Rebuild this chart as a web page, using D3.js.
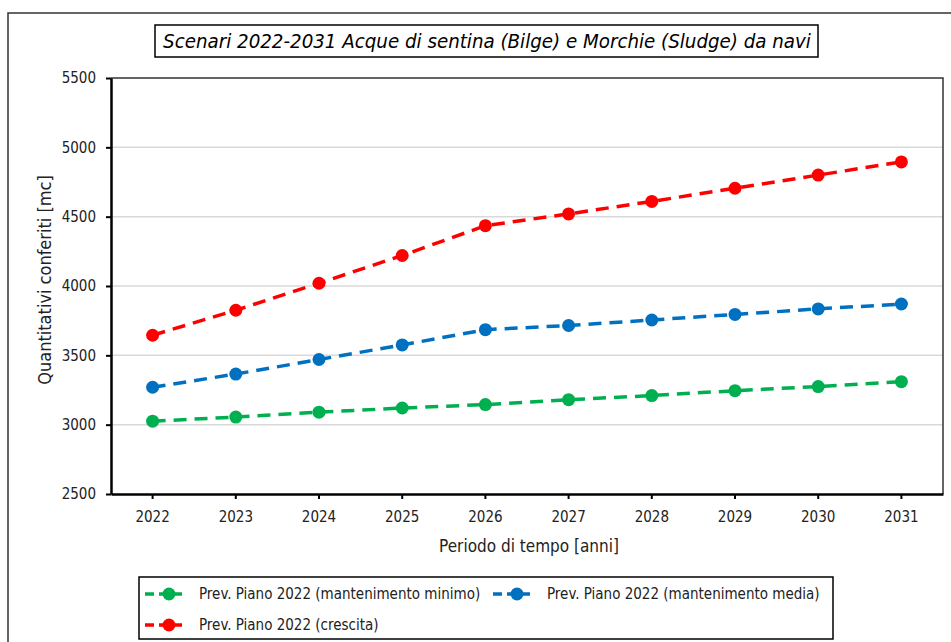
<!DOCTYPE html>
<html>
<head>
<meta charset="utf-8">
<script src="https://cdn.jsdelivr.net/npm/d3@7"></script>
<style>
    body { margin: 0; background: white; }
    svg { display: block; }
</style>
</head>
<body>
<div class="chart"></div>
<script>
const width = 951;
const height = 642;
const font = "'DejaVu Sans Condensed', 'Open Sans', sans-serif";

const years = ['2022', '2023', '2024', '2025', '2026', '2027', '2028', '2029', '2030', '2031'];
const yTicks = [2500, 3000, 3500, 4000, 4500, 5000, 5500];

const minimoValues = [3025, 3055, 3090, 3120, 3145, 3180, 3210, 3245, 3275, 3310];
const mediaValues = [3270, 3365, 3470, 3575, 3685, 3715, 3755, 3795, 3835, 3870];
const crescitaValues = [3645, 3825, 4020, 4220, 4435, 4520, 4610, 4705, 4800, 4895];

const seriesNames = [
    'Prev. Piano 2022 (mantenimento minimo)',
    'Prev. Piano 2022 (mantenimento media)',
    'Prev. Piano 2022 (crescita)',
];
const seriesColors = ['#00b050', '#0070c0', '#ff0000'];

const series = [minimoValues, mediaValues, crescitaValues].map((values, i) => ({
    name: seriesNames[i],
    color: seriesColors[i],
    values: values,
}));

const plot = { left: 111, top: 78, right: 943, bottom: 494 };

const svg = d3
    .select('.chart')
    .append('svg')
    .attr('width', width)
    .attr('height', height)
    .style('font-family', font);

// outer frame
svg.append('rect')
    .attr('x', 8)
    .attr('y', 13)
    .attr('width', 960)
    .attr('height', 650)
    .attr('fill', 'white')
    .attr('stroke', '#333')
    .attr('stroke-width', 1.5);

const x = d3.scaleBand().domain(years).range([plot.left, plot.right]);
const y = d3.scaleLinear().domain([2500, 5500]).range([plot.bottom, plot.top]);

// gridlines
svg.append('g')
    .selectAll('line')
    .data(yTicks.slice(1, -1))
    .enter()
    .append('line')
    .attr('x1', plot.left)
    .attr('x2', plot.right)
    .attr('y1', (d) => y(d))
    .attr('y2', (d) => y(d))
    .attr('stroke', '#d9d9d9')
    .attr('stroke-width', 1.5);

// plot frame (top / right)
svg.append('path')
    .attr('d', `M${plot.left},${plot.top}H${plot.right}V${plot.bottom}`)
    .attr('fill', 'none')
    .attr('stroke', '#333')
    .attr('stroke-width', 1.5);

const yAxis = svg
    .append('g')
    .attr('transform', `translate(${plot.left},0)`)
    .call(
        d3.axisLeft(y)
            .tickValues(yTicks)
            .tickFormat(d3.format('d'))
            .tickSize(5)
            .tickPadding(10)
            .tickSizeOuter(0)
    );

const xAxis = svg
    .append('g')
    .attr('transform', `translate(0,${plot.bottom})`)
    .call(d3.axisBottom(x).tickSize(5).tickPadding(12).tickSizeOuter(0));

[yAxis, xAxis].forEach((axis) => {
    axis.select('.domain').attr('stroke', '#000').attr('stroke-width', 2.5);
    axis.selectAll('.tick line').attr('stroke', '#000').attr('stroke-width', 2);
    axis.selectAll('.tick text')
        .attr('font-family', font)
        .attr('font-size', '15px')
        .attr('fill', '#222');
});

// lines + markers
const line = d3
    .line()
    .x((d, i) => x(years[i]) + x.bandwidth() / 2)
    .y((d) => y(d));

series.forEach((s) => {
    svg.append('path')
        .datum(s.values)
        .attr('d', line)
        .attr('fill', 'none')
        .attr('stroke', s.color)
        .attr('stroke-width', 3.5)
        .attr('stroke-dasharray', '13,8');

    svg.append('g')
        .selectAll('circle')
        .data(s.values)
        .enter()
        .append('circle')
        .attr('cx', (d, i) => x(years[i]) + x.bandwidth() / 2)
        .attr('cy', (d) => y(d))
        .attr('r', 6.5)
        .attr('fill', s.color);
});

// axis titles
svg.append('text')
    .attr('transform', `translate(51,${(plot.top + plot.bottom) / 2 - 6}) rotate(-90)`)
    .attr('text-anchor', 'middle')
    .attr('font-size', '18px')
    .attr('fill', '#222')
    .text('Quantitativi conferiti [mc]');

svg.append('text')
    .attr('x', (plot.left + plot.right) / 2 + 2)
    .attr('y', 552)
    .attr('text-anchor', 'middle')
    .attr('font-size', '17px')
    .attr('fill', '#222')
    .text('Periodo di tempo [anni]');

// title box
svg.append('rect')
    .attr('x', 155)
    .attr('y', 25)
    .attr('width', 663)
    .attr('height', 32)
    .attr('fill', 'white')
    .attr('stroke', '#000')
    .attr('stroke-width', 1.5);

svg.append('text')
    .attr('x', 487)
    .attr('y', 48)
    .attr('text-anchor', 'middle')
    .attr('font-size', '20.3px')
    .attr('font-style', 'italic')
    .attr('fill', '#000')
    .text('Scenari 2022-2031 Acque di sentina (Bilge) e Morchie (Sludge) da navi');

// legend
const legend = svg.append('g');
legend.append('rect')
    .attr('x', 139)
    .attr('y', 577)
    .attr('width', 694)
    .attr('height', 62)
    .attr('fill', 'white')
    .attr('stroke', '#000')
    .attr('stroke-width', 1.5);

const legendPos = [
    { x: 145, y: 594 },
    { x: 493, y: 594 },
    { x: 145, y: 625 },
];

series.forEach((s, i) => {
    const g = legend.append('g').attr('transform', `translate(${legendPos[i].x},${legendPos[i].y})`);
    g.append('line')
        .attr('x1', 0)
        .attr('x2', 38)
        .attr('stroke', s.color)
        .attr('stroke-width', 3.5)
        .attr('stroke-dasharray', '9,5');
    g.append('circle').attr('cx', 24).attr('r', 6.5).attr('fill', s.color);
    g.append('text')
        .attr('x', 54)
        .attr('y', 5)
        .attr('font-size', '15px')
        .attr('fill', '#222')
        .text(s.name);
});
</script>
</body>
</html>
